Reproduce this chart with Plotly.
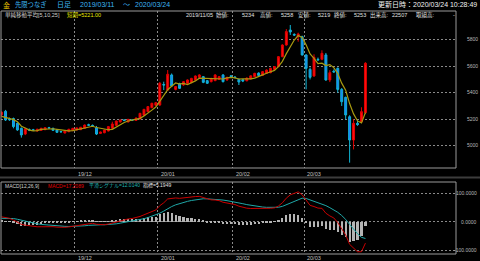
import numpy as np
import plotly.graph_objects as go

# ---------------- data ----------------
opens = [5234, 5260, 5200, 5205, 5169, 5131, 5088, 5121, 5120, 5111,
         5116, 5121, 5136, 5131, 5119, 5107, 5096, 5106, 5114, 5119,
         5121, 5131, 5158, 5153, 5136, 5093, 5098, 5111, 5131, 5154,
         5179, 5194, 5179, 5194, 5191, 5202, 5229, 5257, 5287, 5305,
         5307, 5462, 5420, 5534, 5425, 5469, 5458, 5471, 5476, 5496,
         5516, 5521, 5491, 5483, 5491, 5501, 5534, 5496, 5527, 5518,
         5501, 5498, 5490, 5504, 5521, 5548, 5531, 5546, 5551, 5576,
         5597, 5672, 5760, 5873, 5840, 5823, 5823, 5685, 5576, 5526,
         5652, 5652, 5685, 5496, 5562, 5584, 5425, 5365, 5219, 5043,
         5169, 5181, 5249]
highs = [5258, 5270, 5212, 5212, 5176, 5138, 5131, 5130, 5127, 5128,
         5135, 5140, 5142, 5136, 5124, 5112, 5114, 5127, 5134, 5137,
         5142, 5160, 5166, 5160, 5149, 5106, 5121, 5148, 5181, 5190,
         5197, 5200, 5202, 5200, 5212, 5248, 5278, 5299, 5324, 5330,
         5481, 5483, 5571, 5545, 5450, 5475, 5488, 5500, 5512, 5530,
         5540, 5526, 5496, 5512, 5540, 5526, 5540, 5520, 5532, 5525,
         5506, 5504, 5515, 5531, 5550, 5554, 5563, 5575, 5588, 5601,
         5676, 5765, 5880, 5911, 5848, 5853, 5830, 5690, 5590, 5690,
         5665, 5720, 5700, 5570, 5575, 5590, 5435, 5370, 5230, 5200,
         5190, 5290, 5630]
lows = [5219, 5187, 5188, 5131, 5112, 5061, 5080, 5110, 5112, 5106,
        5112, 5118, 5128, 5112, 5096, 5098, 5092, 5102, 5110, 5116,
        5118, 5128, 5150, 5144, 5081, 5088, 5094, 5108, 5128, 5150,
        5175, 5185, 5176, 5186, 5188, 5198, 5225, 5253, 5283, 5300,
        5300, 5420, 5415, 5445, 5418, 5428, 5452, 5466, 5472, 5492,
        5512, 5472, 5466, 5478, 5487, 5496, 5478, 5490, 5515, 5508,
        5458, 5480, 5486, 5500, 5517, 5524, 5527, 5542, 5547, 5572,
        5593, 5668, 5755, 5836, 5828, 5785, 5680, 5425, 5500, 5520,
        5640, 5645, 5490, 5480, 5550, 5400, 5300, 5199, 4872, 4972,
        5150, 5175, 5240]
closes = [5253, 5194, 5196, 5144, 5119, 5081, 5128, 5118, 5117, 5124,
          5131, 5136, 5133, 5116, 5101, 5105, 5111, 5124, 5131, 5134,
          5139, 5156, 5155, 5150, 5088, 5103, 5118, 5144, 5164, 5186,
          5194, 5190, 5199, 5191, 5209, 5244, 5274, 5295, 5320, 5325,
          5471, 5458, 5539, 5451, 5446, 5433, 5483, 5496, 5508, 5526,
          5534, 5478, 5471, 5508, 5534, 5521, 5483, 5516, 5522, 5515,
          5481, 5488, 5510, 5527, 5546, 5530, 5559, 5571, 5584, 5597,
          5672, 5760, 5861, 5858, 5835, 5843, 5685, 5584, 5516, 5667,
          5648, 5697, 5496, 5551, 5557, 5425, 5332, 5232, 5043, 5169,
          5159, 5257, 5622]
prev_closes = [5228, 5236, 5190, 5198]      # closes before the first bar (for the 5-day MA)

macd_start = 17.2089        # header values at the first bar
signal_start = 12.0140
ema26_start = 5198.0

month_start_idx = [19, 40, 59, 77]
month_labels = ["19/12", "20/01", "20/02", "20/03"]
price_ticks = [5000, 5200, 5400, 5600, 5800]
macd_ticks = [100, 0, -100]
macd_tick_text = ["100.0000", "0.0000", "-100.0000"]

# ---------------- derived indicators ----------------
n = len(closes)
idx = np.arange(n)
ext = np.array(prev_closes + closes, dtype=float)
sma5 = np.array([ext[i:i + 5].mean() for i in range(n)])

a12, a26, a9 = 2 / 13, 2 / 27, 2 / 10
e26 = [ema26_start]
e12 = [ema26_start + macd_start]
for c in closes[1:]:
    e12.append(e12[-1] + a12 * (c - e12[-1]))
    e26.append(e26[-1] + a26 * (c - e26[-1]))
macd = np.array(e12) - np.array(e26)
sig = [signal_start]
for m in macd[1:]:
    sig.append(sig[-1] + a9 * (m - sig[-1]))
sig = np.array(sig)
hist = macd - sig

# ---------------- layout helpers ----------------
W, H = 480, 261
def PX(x): return x / W
def PY(y): return 1 - y / H

GRID = "#8a8a8a"
FONT = "Liberation Sans, Noto Sans CJK JP, sans-serif"

fig = go.Figure()
fig.add_trace(go.Candlestick(
    x=idx, open=opens, high=highs, low=lows, close=closes,
    increasing=dict(line=dict(color="#e00000", width=1), fillcolor="#ff1010"),
    decreasing=dict(line=dict(color="#10b4d4", width=1), fillcolor="#1e7cff"),
    xaxis="x", yaxis="y", showlegend=False, hoverinfo="skip"))
fig.add_trace(go.Scatter(x=idx, y=sma5, mode="lines",
                         line=dict(color="#a89a10", width=1.2),
                         xaxis="x", yaxis="y", showlegend=False, hoverinfo="skip"))
fig.add_trace(go.Bar(x=idx, y=hist, width=0.55, marker=dict(color="#b4b4b4", line=dict(width=0)),
                     xaxis="x2", yaxis="y2", showlegend=False, hoverinfo="skip"))
fig.add_trace(go.Scatter(x=idx, y=sig, mode="lines", line=dict(color="#1fa8a8", width=1),
                         xaxis="x2", yaxis="y2", showlegend=False, hoverinfo="skip"))
fig.add_trace(go.Scatter(x=idx, y=macd, mode="lines", line=dict(color="#c80000", width=1),
                         xaxis="x2", yaxis="y2", showlegend=False, hoverinfo="skip"))

grid_x = [v - 0.5 for v in month_start_idx]
xcommon = dict(range=[-0.15, 114.9], tickvals=grid_x, showticklabels=False,
               showgrid=True, gridcolor=GRID, griddash="2px,2px", gridwidth=1,
               zeroline=False, showline=False, ticks="", automargin=False,
               domain=[PX(1), PX(456)])
fig.update_layout(
    width=W, height=H, margin=dict(l=0, r=0, t=0, b=0),
    paper_bgcolor="black", plot_bgcolor="black", template="none",
    showlegend=False,
    xaxis=dict(anchor="y", rangeslider=dict(visible=False), **xcommon),
    xaxis2=dict(anchor="y2", matches="x", **xcommon),
    yaxis=dict(domain=[PY(168), PY(11)], range=[4831.7, 6016.6], side="right",
               tickvals=price_ticks, ticktext=[str(v) for v in price_ticks],
               tickfont=dict(family=FONT, size=5, color="#b8b8b8"),
               ticks="outside", ticklen=9, tickcolor="rgba(0,0,0,0)",
               showgrid=True, gridcolor=GRID, griddash="2px,2px", gridwidth=1,
               zeroline=False, showline=False, automargin=False),
    yaxis2=dict(domain=[PY(254), PY(182)], range=[-113.7, 139.8], side="right",
                tickvals=macd_ticks, showticklabels=False,
                showgrid=True, gridcolor=GRID, griddash="2px,2px", gridwidth=1,
                zeroline=False, showline=False, automargin=False),
    bargap=0,
)

shapes = [
    dict(type="rect", xref="paper", yref="paper", x0=PX(1), x1=PX(456), y0=PY(168), y1=PY(11),
         line=dict(color="#9a9a9a", width=1), layer="above"),
    dict(type="rect", xref="paper", yref="paper", x0=PX(1), x1=PX(456), y0=PY(254), y1=PY(182),
         line=dict(color="#9a9a9a", width=1), layer="above"),
    dict(type="line", xref="paper", yref="paper", x0=0, x1=1, y0=PY(177.5), y1=PY(177.5),
         line=dict(color="#3c3c3c", width=2), layer="above"),
]
fig.update_layout(shapes=shapes)

ann = []
def txt(s, x, y, color="#d8d8d8", size=6, anchor="left"):
    ann.append(dict(text=s, x=PX(x), y=PY(y), xref="paper", yref="paper",
                    xanchor=anchor, yanchor="middle", showarrow=False,
                    font=dict(family=FONT, size=size, color=color)))

# title row
TC = "#3cb4f0"
txt("金", 1, 4.5, color="#e8c000", size=7)
txt("先限つなぎ", 13, 4.5, color=TC, size=6.3)
txt("日足", 55, 4.5, color=TC, size=7)
txt("2019/03/11", 78, 4.5, color=TC, size=7)
txt("～", 121, 4.5, color=TC, size=7)
txt("2020/03/24", 133, 4.5, color=TC, size=7)
txt("更新日時：2020/03/24 10:28:49", 479, 4.5, color="#f0f0f0", size=7, anchor="right")
# info row of main panel
txt("単純移動平均[5,10,25]", 3, 14.8, color="#d0d0d0", size=5.5)
txt("短期=5221.00", 65, 14.8, color="#e8e800", size=5.5)
info = [("2019/11/05", 184), ("始値:", 214), ("5234", 240), ("高値:", 258), ("5258", 279),
        ("安値:", 296), ("5219", 316), ("終値:", 332), ("5253", 352), ("出来高:", 368),
        ("22507", 390), ("取組高:", 414), ("-", 451)]
for s, x in info:
    txt(s, x, 14.8, color="#e0e0e0", size=5.5)
# MACD header
txt("MACD[12,26,9]", 3, 185.7, color="#d0d0d0", size=5)
txt("MACD=17.2089", 46, 185.7, color="#e00000", size=5)
txt("平滑シグナル=12.0140", 87, 185.7, color="#1fb0b0", size=5)
txt("指標=5.1949", 141, 185.7, color="#e0e0e0", size=5)
# date labels (two rows)
for v, lab in zip(grid_x, month_labels):
    for yy in (173.5, 258):
        ann.append(dict(text=lab, x=v, y=PY(yy), xref="x", yref="paper", xanchor="left",
                        yanchor="middle", xshift=1, showarrow=False,
                        font=dict(family=FONT, size=5.5, color="#c0c0c0")))
# MACD axis labels
for v, s in zip(macd_ticks, macd_tick_text):
    ann.append(dict(text=s, x=PX(479), y=v, xref="paper", yref="y2", xanchor="right",
                    yanchor="middle", showarrow=False,
                    font=dict(family=FONT, size=5, color="#b8b8b8")))
fig.update_layout(annotations=ann)

fig.write_html("out.html")
